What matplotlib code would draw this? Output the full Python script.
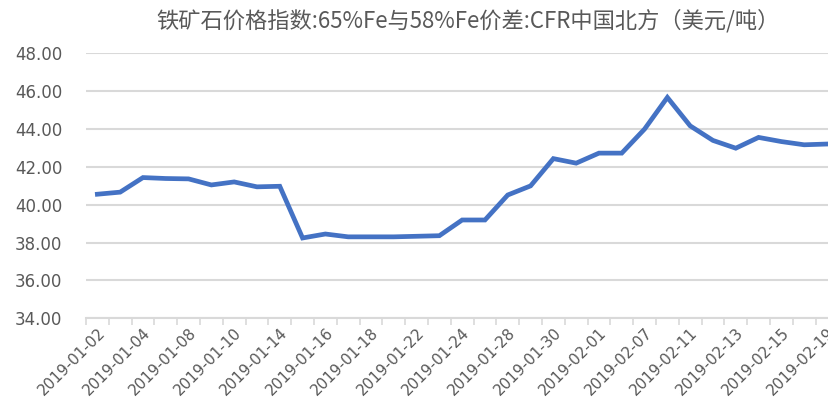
import numpy as np
import matplotlib
matplotlib.use("Agg")
import matplotlib.pyplot as plt

plt.rcParams['font.family'] = ['Noto Sans CJK SC', 'DejaVu Sans']

# 数据
dates = ['2019-01-02', '2019-01-03', '2019-01-04', '2019-01-07', '2019-01-08',
         '2019-01-09', '2019-01-10', '2019-01-11', '2019-01-14', '2019-01-15',
         '2019-01-16', '2019-01-17', '2019-01-18', '2019-01-21', '2019-01-22',
         '2019-01-23', '2019-01-24', '2019-01-25', '2019-01-28', '2019-01-29',
         '2019-01-30', '2019-01-31', '2019-02-01', '2019-02-04', '2019-02-07',
         '2019-02-08', '2019-02-11', '2019-02-12', '2019-02-13', '2019-02-14',
         '2019-02-15', '2019-02-18', '2019-02-19']
spread = [40.55, 40.66, 41.43, 41.38, 41.36, 41.04, 41.20, 40.94, 40.97, 38.24,
          38.45, 38.30, 38.30, 38.30, 38.33, 38.36, 39.19, 39.19, 40.51, 40.99,
          42.43, 42.19, 42.72, 42.72, 43.99, 45.66, 44.16, 43.39, 42.98, 43.55,
          43.33, 43.16, 43.20]
title = '铁矿石价格指数:65%Fe与58%Fe价差:CFR中国北方（美元/吨）'

grey = '#595959'
fig = plt.figure(figsize=(8.29, 4.03), dpi=100)
ax = fig.add_axes([0.1037, 0.2102, 0.9076, 0.658])

x = np.arange(len(dates)) + 0.5
ax.plot(x, spread, color='#4472C4', lw=3.4, solid_joinstyle='miter', zorder=3)

ax.set_xlim(0, len(dates))
ax.set_ylim(34, 48)
ax.set_yticks(np.arange(34, 48.1, 2))
ax.set_yticklabels([f'{v:.2f}' for v in np.arange(34, 48.1, 2)],
                   family='DejaVu Sans', fontsize=12, color=grey)
ax.tick_params(axis='y', length=0, pad=17)
ax.yaxis.grid(True, color='#d9d9d9', lw=1.5)
ax.set_axisbelow(True)

# 刻度线在类别之间, 标签在类别中间
ax.set_xticks(np.arange(len(dates) + 1))
ax.set_xticklabels([])
ax.tick_params(axis='x', which='major', length=5, width=1.2, color='#d9d9d9')
ax.set_xticks(x[::2], minor=True)
ax.set_xticklabels(dates[::2], minor=True, rotation=45, ha='right',
                   rotation_mode='anchor', family='DejaVu Sans',
                   fontsize=11, color=grey)
ax.tick_params(axis='x', which='minor', length=0, pad=5)

for s in ['top', 'right', 'left']:
    ax.spines[s].set_visible(False)
ax.spines['bottom'].set_color('#d9d9d9')
ax.spines['bottom'].set_linewidth(1.5)

fig.text(0.565, 0.948, title, ha='center', va='center', fontsize=16, color=grey)

fig.savefig('out.png', dpi=100)
